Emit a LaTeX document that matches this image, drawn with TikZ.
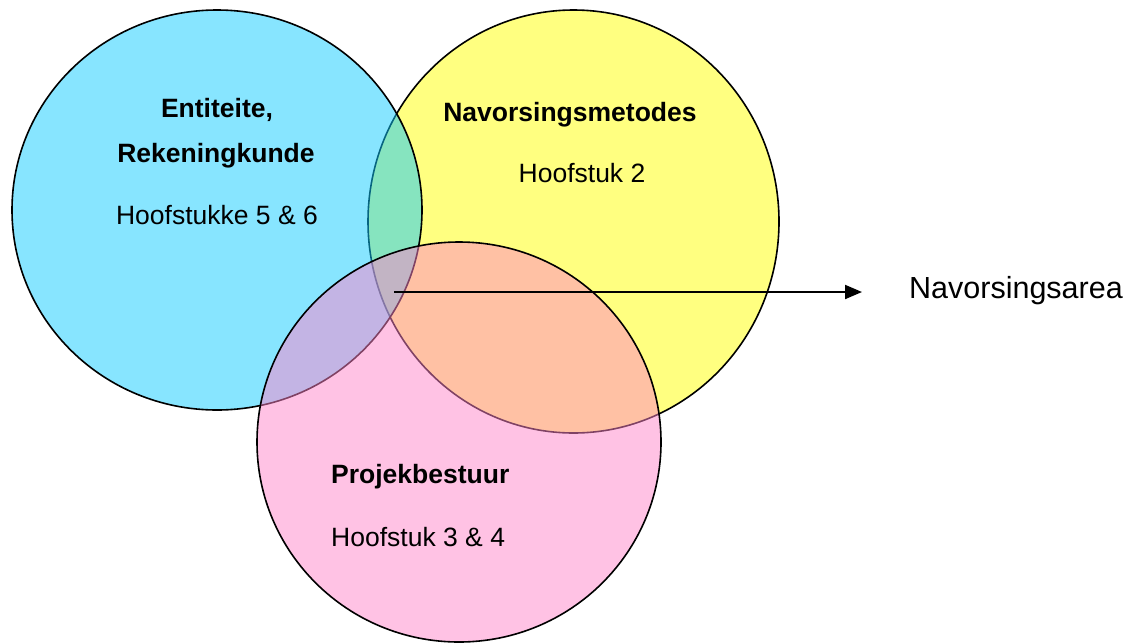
\documentclass[tikz,border=0pt]{standalone}
\usepackage{fontspec}
\setmainfont{Liberation Sans}
\usetikzlibrary{arrows.meta}
\definecolor{blueC}{RGB}{15,203,255}
\definecolor{yellowC}{RGB}{255,255,128}
\definecolor{pinkC}{RGB}{255,133,201}
\tikzset{
  setc/.style={draw=black, line width=1.6pt},
  lbl/.style={inner sep=0pt, anchor=base, font=\fontsize{26.5}{30}\selectfont},
  blbl/.style={lbl, font=\fontsize{26.5}{30}\selectfont\bfseries},
  conn/.style={line width=2pt, -{Triangle[length=17pt,width=14pt]}}
}
\begin{document}
\begin{tikzpicture}[x=1pt,y=-1pt]
\useasboundingbox (0,0) rectangle (1142,643);
% yellow first, then blue and pink semi-transparent on top
\path[setc, fill=yellowC] (573.5,221.5) ellipse [x radius=205.5pt, y radius=211.5pt];
\path[setc, fill=blueC, fill opacity=0.5] (217,210) ellipse [x radius=205pt, y radius=200pt];
\path[setc, fill=pinkC, fill opacity=0.5] (459,442) ellipse [x radius=202pt, y radius=200pt];
% labels
\node[blbl] (ent) at (217,117) {Entiteite,};
\node[blbl] (rek) at (216,162) {Rekeningkunde};
\node[lbl] (h56) at (217,224) {Hoofstukke 5 \& 6};
\node[blbl] (nav) at (570,121) {Navorsingsmetodes};
\node[lbl] (h2) at (582,182) {Hoofstuk 2};
\node[blbl, anchor=base west] (proj) at (331,483) {Projekbestuur};
\node[lbl, anchor=base west] (h34) at (331,546) {Hoofstuk 3 \& 4};
\node[lbl, anchor=base west, font=\fontsize{30.5}{34}\selectfont] (area) at (909,298) {Navorsingsarea};
% arrow
\coordinate (start) at (394,292);
\coordinate (tip) at (862,292);
\draw[conn] (start) -- (tip);
\end{tikzpicture}
\end{document}
